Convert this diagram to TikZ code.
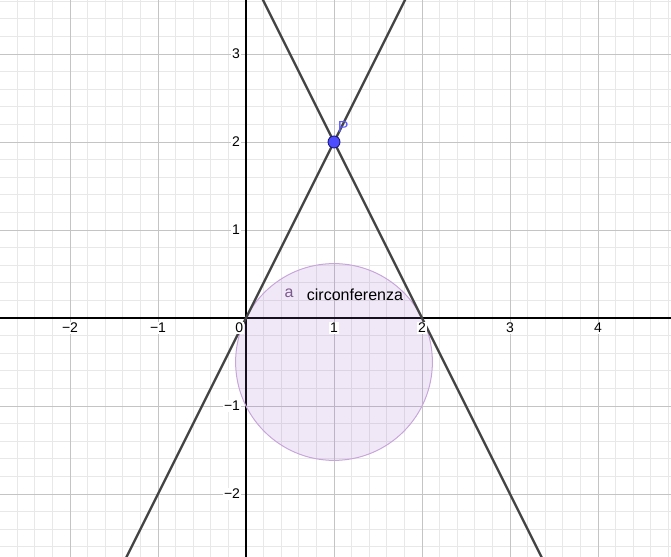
\documentclass[tikz,border=0pt]{standalone}
\usepackage{fontspec}
\setmainfont{Liberation Sans}
\usetikzlibrary{calc}
\definecolor{gridmajor}{HTML}{C4C4C4}
\definecolor{gridminor}{HTML}{E8E8E8}
\definecolor{retta}{HTML}{444444}
\definecolor{circtint}{HTML}{9966CC}
\definecolor{circline}{HTML}{C8A6DA}
\definecolor{punto}{HTML}{4D4DFF}
\definecolor{puntoline}{HTML}{1A1A80}
\definecolor{etichetta}{HTML}{7D5A8C}
\definecolor{nomeP}{HTML}{5C5CFF}
\tikzset{
  minorgrid/.style={gridminor,line width=0.8pt},
  majorgrid/.style={gridmajor,line width=0.9pt},
  axisline/.style={black,line width=1.2pt},
  tangent/.style={retta,line width=2.4pt},
  ticklabel/.style={font=\fontsize{14}{16}\selectfont,fill=white,inner sep=1pt},
  bigtext/.style={font=\fontsize{16}{18}\selectfont,inner sep=0pt}
}

\begin{document}
\begin{tikzpicture}[x=88pt,y=88pt]
\useasboundingbox (-2.7955,-2.7159) rectangle (4.8295,3.6136);
\clip (-2.7955,-2.7159) rectangle (4.8295,3.6136);
% grid
\foreach \i in {-14,...,24}{
  \draw[minorgrid] (\i/5,-2.8) -- (\i/5,3.7);
}
\foreach \j in {-14,...,18}{
  \draw[minorgrid] (-2.8,\j/5) -- (4.9,\j/5);
}
\foreach \x in {-2,...,4}{
  \draw[majorgrid] (\x,-2.8) -- (\x,3.7);
}
\foreach \y in {-2,...,3}{
  \draw[majorgrid] (-2.8,\y) -- (4.9,\y);
}
% axes
\draw[axisline] (-2.8,0) -- (4.9,0);
\draw[axisline] (0,-2.8) -- (0,3.7);
% circonferenza
\coordinate (C) at (1,-0.5);
\fill[circtint,fill opacity=0.15] (C) circle[radius=1.118];
\draw[circline,line width=1pt] (C) circle[radius=1.118];
% tangenti per P
\coordinate (P) at (1,2);
\coordinate (A1) at (-1.5,-3);
\coordinate (A2) at (2,4);
\coordinate (B1) at (0,4);
\coordinate (B2) at (3.5,-3);
\draw[tangent] (A1) -- (A2);
\draw[tangent] (B1) -- (B2);
% tick labels
\foreach \x/\t in {-2/−2,-1/−1,1/1,2/2,3/3,4/4}{
  \node[ticklabel,anchor=north] (xl\x) at (\x,-0.045) {\t};
}
\foreach \y/\t in {-2/−2,-1/−1,1/1,2/2,3/3}{
  \node[ticklabel,anchor=east] (yl\y) at (-0.055,\y) {\t};
}
\node[ticklabel,anchor=north east] (o) at (-0.02,-0.045) {0};
% labels
\node[bigtext,text=etichetta] (a) at (0.489,0.284) {a};
\node[bigtext,anchor=west] (nome) at (0.69,0.261) {circonferenza};
\fill[punto,draw=puntoline,line width=0.9pt] (P) circle[radius=6pt];
\node[bigtext,text=nomeP] (lP) at (1.105,2.165) {P};
\end{tikzpicture}
\end{document}
